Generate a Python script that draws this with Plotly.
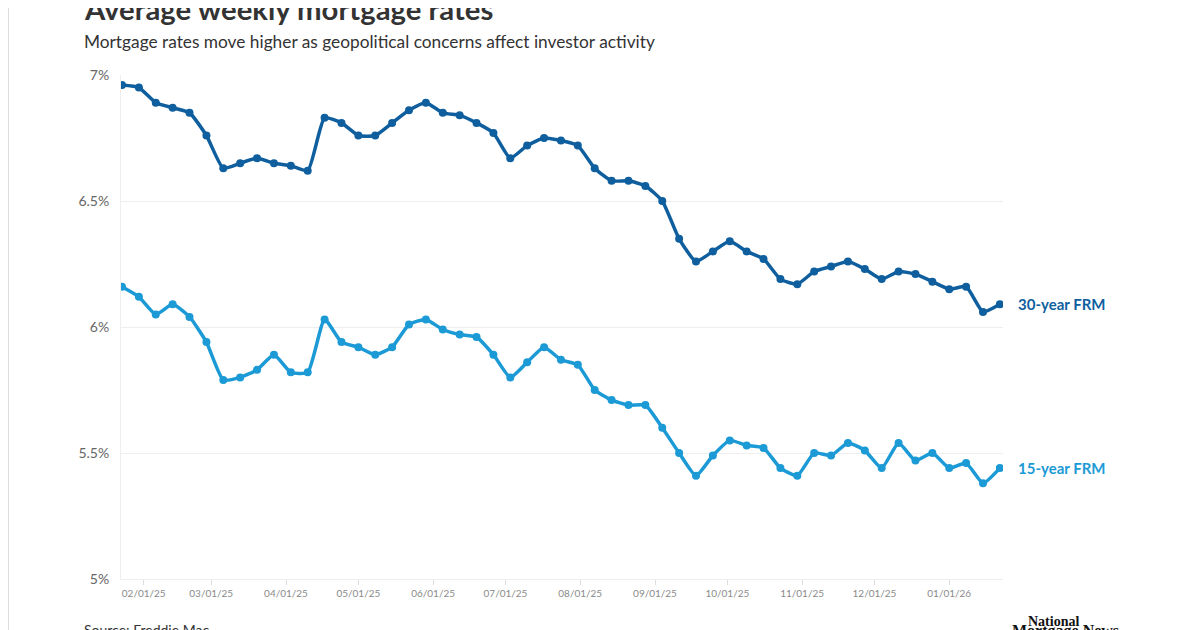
import plotly.graph_objects as go
import pandas as pd

dates = pd.date_range("2025-01-23", periods=53, freq="7D")
frm30 = [6.96, 6.95, 6.89, 6.87, 6.85, 6.76, 6.63, 6.65, 6.67, 6.65, 6.64, 6.62,
         6.83, 6.81, 6.76, 6.76, 6.81, 6.86, 6.89, 6.85, 6.84, 6.81, 6.77, 6.67,
         6.72, 6.75, 6.74, 6.72, 6.63, 6.58, 6.58, 6.56, 6.50, 6.35, 6.26, 6.30,
         6.34, 6.30, 6.27, 6.19, 6.17, 6.22, 6.24, 6.26, 6.23, 6.19, 6.22, 6.21,
         6.18, 6.15, 6.16, 6.06, 6.09]
frm15 = [6.16, 6.12, 6.05, 6.09, 6.04, 5.94, 5.79, 5.80, 5.83, 5.89, 5.82, 5.82,
         6.03, 5.94, 5.92, 5.89, 5.92, 6.01, 6.03, 5.99, 5.97, 5.96, 5.89, 5.80,
         5.86, 5.92, 5.87, 5.85, 5.75, 5.71, 5.69, 5.69, 5.60, 5.50, 5.41, 5.49,
         5.55, 5.53, 5.52, 5.44, 5.41, 5.50, 5.49, 5.54, 5.51, 5.44, 5.54, 5.47,
         5.50, 5.44, 5.46, 5.38, 5.44]
series_names = ["30-year FRM", "15-year FRM"]
colors = ["#0f5f9f", "#1c9ad6"]
y_ticks = [5, 5.5, 6, 6.5, 7]
y_labels = ["5%", "5.5%", "6%", "6.5%", "7%"]
x_ticks = pd.date_range("2025-02-01", "2026-01-01", freq="MS")

PLOT_W, PLOT_H = 882, 504
ML, MT = 113, 67

fig = go.Figure()
for name, vals, col in zip(series_names, [frm30, frm15], colors):
    fig.add_trace(go.Scatter(
        x=dates, y=vals, mode="lines+markers", name=name,
        line=dict(color=col, width=3.5, shape="spline", smoothing=0.5),
        marker=dict(color=col, size=8), showlegend=False))
    fig.add_annotation(x=dates[-1], y=vals[-1], text=name, showarrow=False,
                       xanchor="left", yanchor="middle", xshift=16,
                       font=dict(family="Lato", size=15, color=col, weight="bold"))
    fig.add_shape(type="line", xref="x", yref="y", xsizemode="pixel",
                  xanchor=dates[-1], x0=7, x1=13, y0=vals[-1], y1=vals[-1],
                  line=dict(color="#cccccc", width=1))

x_start = pd.Timestamp("2025-01-22 14:00")
x_end = pd.Timestamp("2026-01-23 07:00")

fig.update_layout(
    width=1200, height=630,
    margin=dict(l=ML, r=1200 - ML - PLOT_W, t=MT, b=630 - MT - PLOT_H),
    paper_bgcolor="white", plot_bgcolor="white",
    font=dict(family="Lato", color="#666666"),
    xaxis=dict(range=[x_start, x_end], tickvals=x_ticks, tickformat="%m/%d/%y",
               tickfont=dict(size=10, color="#8a8a8a"), ticks="outside",
               ticklen=5, tickcolor="#dddddd", showgrid=False, showline=True,
               linecolor="#eeeeee", zeroline=False),
    yaxis=dict(range=[5, 7], tickvals=y_ticks, ticktext=y_labels,
               tickfont=dict(size=14, color="#666666"), showgrid=True,
               gridcolor="#eeeeee", showline=True, linecolor="#eeeeee",
               zeroline=False, ticks="", ticklabelstandoff=8),
)

def px_x(p):
    return (p - ML) / PLOT_W

def px_y(p):
    return (MT + PLOT_H - p) / PLOT_H

fig.add_annotation(xref="paper", yref="paper", x=px_x(74), y=px_y(0),
                   xanchor="left", yanchor="middle", showarrow=False,
                   text="<b>Average weekly mortgage rates</b>",
                   font=dict(family="Lato", size=29.3, color="#333333"))
fig.add_annotation(xref="paper", yref="paper", x=px_x(74), y=px_y(33),
                   xanchor="left", yanchor="middle", showarrow=False,
                   text="Mortgage rates move higher as geopolitical concerns affect investor activity",
                   font=dict(family="Lato", size=17.3, color="#333333"))
fig.add_annotation(xref="paper", yref="paper", x=px_x(74), y=px_y(621),
                   xanchor="left", yanchor="middle", showarrow=False,
                   text="Source: Freddie Mac",
                   font=dict(family="Lato", size=14, color="#333333"))
fig.add_annotation(xref="paper", yref="paper", x=px_x(1045), y=px_y(613),
                   xanchor="center", yanchor="middle", showarrow=False,
                   text="<b>National</b>",
                   font=dict(family="Liberation Serif", size=14, color="#111111"))
fig.add_annotation(xref="paper", yref="paper", x=px_x(1057), y=px_y(623),
                   xanchor="center", yanchor="middle", showarrow=False,
                   text="<b>Mortgage News</b>",
                   font=dict(family="Liberation Serif", size=16, color="#111111"))

for xp in [0.5, 1190]:
    fig.add_shape(type="line", xref="paper", yref="paper",
                  x0=px_x(xp), x1=px_x(xp), y0=px_y(640), y1=px_y(-20),
                  line=dict(color="#dddddd", width=1))

fig.write_html("out.html")
